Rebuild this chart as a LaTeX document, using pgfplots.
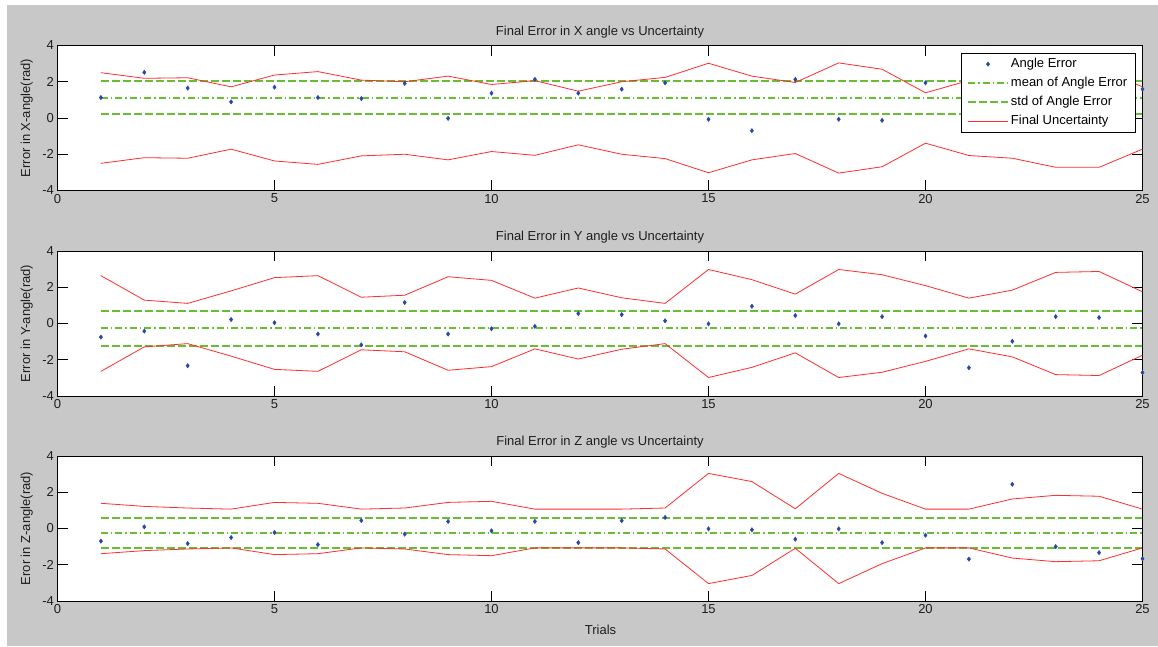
\documentclass[border=0pt]{standalone}
\usepackage{fontspec}
\setmainfont{Liberation Sans}
\usepackage{pgfplots}
\pgfplotsset{compat=1.18}
\usepackage{pgfplotstable}

\definecolor{bgray}{RGB}{200,200,200}
\definecolor{mblue}{RGB}{40,70,170}
\definecolor{mgreen}{RGB}{104,190,50}
\definecolor{mred}{RGB}{255,45,45}
\definecolor{tgray}{RGB}{30,30,30}

\pgfplotstableread{
x err up lo
1 1.13 2.50 -2.50
2 2.52 2.19 -2.19
3 1.65 2.22 -2.22
4 0.89 1.72 -1.72
5 1.70 2.37 -2.37
6 1.13 2.56 -2.56
7 1.07 2.09 -2.09
8 1.91 2.00 -2.00
9 -0.02 2.31 -2.31
10 1.37 1.85 -1.85
11 2.13 2.06 -2.06
12 1.37 1.48 -1.48
13 1.59 2.00 -2.00
14 1.94 2.24 -2.24
15 -0.07 3.02 -3.02
16 -0.70 2.31 -2.31
17 2.13 1.96 -1.96
18 -0.07 3.04 -3.04
19 -0.13 2.69 -2.69
20 1.94 1.39 -1.39
21 0.90 2.07 -2.07
22 0.20 2.22 -2.22
23 1.10 2.72 -2.72
24 0.50 2.72 -2.72
25 1.59 1.72 -1.72
}\dataX

\pgfplotstableread{
x err up lo
1 -0.75 2.64 -2.64
2 -0.42 1.29 -1.29
3 -2.33 1.11 -1.11
4 0.22 1.80 -1.80
5 0.04 2.53 -2.53
6 -0.58 2.64 -2.64
7 -1.18 1.45 -1.45
8 1.16 1.56 -1.56
9 -0.58 2.58 -2.58
10 -0.29 2.38 -2.38
11 -0.16 1.40 -1.40
12 0.55 1.96 -1.96
13 0.49 1.42 -1.42
14 0.15 1.11 -1.11
15 -0.02 2.98 -2.98
16 0.95 2.42 -2.42
17 0.44 1.62 -1.62
18 -0.02 2.98 -2.98
19 0.38 2.69 -2.69
20 -0.69 2.09 -2.09
21 -2.44 1.40 -1.40
22 -0.98 1.84 -1.84
23 0.38 2.82 -2.82
24 0.33 2.87 -2.87
25 -2.71 1.75 -1.75
}\dataY

\pgfplotstableread{
x err up lo
1 -0.70 1.39 -1.39
2 0.09 1.22 -1.22
3 -0.83 1.13 -1.13
4 -0.50 1.07 -1.07
5 -0.22 1.44 -1.44
6 -0.89 1.39 -1.39
7 0.44 1.07 -1.07
8 -0.31 1.13 -1.13
9 0.39 1.44 -1.44
10 -0.13 1.50 -1.50
11 0.39 1.07 -1.07
12 -0.78 1.07 -1.07
13 0.43 1.07 -1.07
14 0.61 1.13 -1.13
15 -0.02 3.04 -3.04
16 -0.07 2.59 -2.59
17 -0.59 1.09 -1.09
18 -0.02 3.04 -3.04
19 -0.78 1.94 -1.94
20 -0.37 1.07 -1.07
21 -1.69 1.07 -1.07
22 2.44 1.63 -1.63
23 -1.00 1.83 -1.83
24 -1.33 1.78 -1.78
25 -1.67 1.07 -1.07
}\dataZ

\pgfplotsset{
  mstyle/.style={
    scale only axis, width=1085pt, height=145pt,
    anchor=south west,
    xmin=0, xmax=25, ymin=-4, ymax=4,
    xtick={0,5,...,25}, ytick={-4,-2,0,2,4},
    axis background/.style={fill=white},
    major tick length=10pt,
    tick style={black, line width=0.6pt},
    axis line style={black, line width=0.8pt},
    tick label style={font=\fontsize{13}{15}\selectfont, text=tgray},
    /pgf/number format/assume math mode=true,
    title style={font=\fontsize{13}{15}\selectfont, text=tgray, yshift=-2pt},
    every axis y label/.style={at={(axis description cs:-0.0283,0.5)}, rotate=90, anchor=center, font=\fontsize{13}{15}\selectfont, text=tgray},
    every axis x label/.style={at={(axis description cs:0.5005,-0.2)}, anchor=center, font=\fontsize{13}{15}\selectfont, text=tgray},
    clip mode=individual,
  },
  pts/.style={only marks, mark=diamond*, mark size=2.2pt, color=mblue, draw=mblue, fill=mblue, mark options={draw=mblue, fill=mblue, solid}},
  unc/.style={color=mred, draw=mred, line width=0.8pt, solid},
  meanl/.style={color=mgreen, draw=mgreen, line width=1.8pt, dash pattern=on 7pt off 3pt on 1.5pt off 3pt},
  stdl/.style={color=mgreen, draw=mgreen, line width=1.8pt, dash pattern=on 8pt off 3pt},
  ptsleg/.style={legend image code/.code={\draw[mark repeat=2,mark phase=2,##1] plot coordinates {(0pt,0pt) (20pt,0pt) (40pt,0pt)};}},
  lineleg/.style={legend image code/.code={\draw[##1] (0pt,0pt) -- (40pt,0pt);}},
}

\begin{document}
\begin{tikzpicture}
\useasboundingbox (0pt,0pt) rectangle (1158pt,646pt);
\fill[white] (0pt,0pt) rectangle (1158pt,646pt);
\fill[bgray] (7pt,0pt) rectangle (1158pt,641pt);

% ---------- X angle ----------
\begin{axis}[mstyle, at={(57.5pt,455.5pt)},
  title={Final Error in X angle vs Uncertainty},
  ylabel={Error in X-angle(rad)},
  legend style={at={(1,1)}, anchor=north east, xshift=-7pt, yshift=-7.5pt,
    fill=white,
    font=\fontsize{13}{15}\selectfont, text=black,
    inner xsep=6pt, inner ysep=2.5pt, row sep=2pt,
    nodes={inner sep=2pt, text height=9.5pt, text depth=3.5pt}},
  legend cell align=left,
]
\addlegendimage{pts, ptsleg}
\addlegendentry{Angle Error}
\addlegendimage{meanl, lineleg}
\addlegendentry{mean of Angle Error}
\addlegendimage{stdl, lineleg}
\addlegendentry{std of Angle Error}
\addlegendimage{unc, lineleg}
\addlegendentry{Final Uncertainty}
\addplot[stdl, forget plot] coordinates {(1,2.02) (25,2.02)};
\addplot[meanl, forget plot] coordinates {(1,1.11) (25,1.11)};
\addplot[stdl, forget plot] coordinates {(1,0.20) (25,0.20)};
\addplot[unc, forget plot] table[x=x,y=up]{\dataX};
\addplot[unc, forget plot] table[x=x,y=lo]{\dataX};
\addplot[pts, forget plot] table[x=x,y=err]{\dataX};
\end{axis}

% ---------- Y angle ----------
\begin{axis}[mstyle, at={(57.5pt,250pt)},
  title={Final Error in Y angle vs Uncertainty},
  ylabel={Error in Y-angle(rad)},
]
\addplot[stdl] coordinates {(1,0.70) (25,0.70)};
\addplot[meanl] coordinates {(1,-0.27) (25,-0.27)};
\addplot[stdl] coordinates {(1,-1.26) (25,-1.26)};
\addplot[unc] table[x=x,y=up]{\dataY};
\addplot[unc] table[x=x,y=lo]{\dataY};
\addplot[pts] table[x=x,y=err]{\dataY};
\end{axis}

% ---------- Z angle ----------
\begin{axis}[mstyle, at={(57.5pt,45pt)},
  title={Final Error in Z angle vs Uncertainty},
  ylabel={Eror in Z-angle(rad)},
  xlabel={Trials},
]
\addplot[stdl] coordinates {(1,0.57) (25,0.57)};
\addplot[meanl] coordinates {(1,-0.27) (25,-0.27)};
\addplot[stdl] coordinates {(1,-1.09) (25,-1.09)};
\addplot[unc] table[x=x,y=up]{\dataZ};
\addplot[unc] table[x=x,y=lo]{\dataZ};
\addplot[pts] table[x=x,y=err]{\dataZ};
\end{axis}
\end{tikzpicture}
\end{document}
